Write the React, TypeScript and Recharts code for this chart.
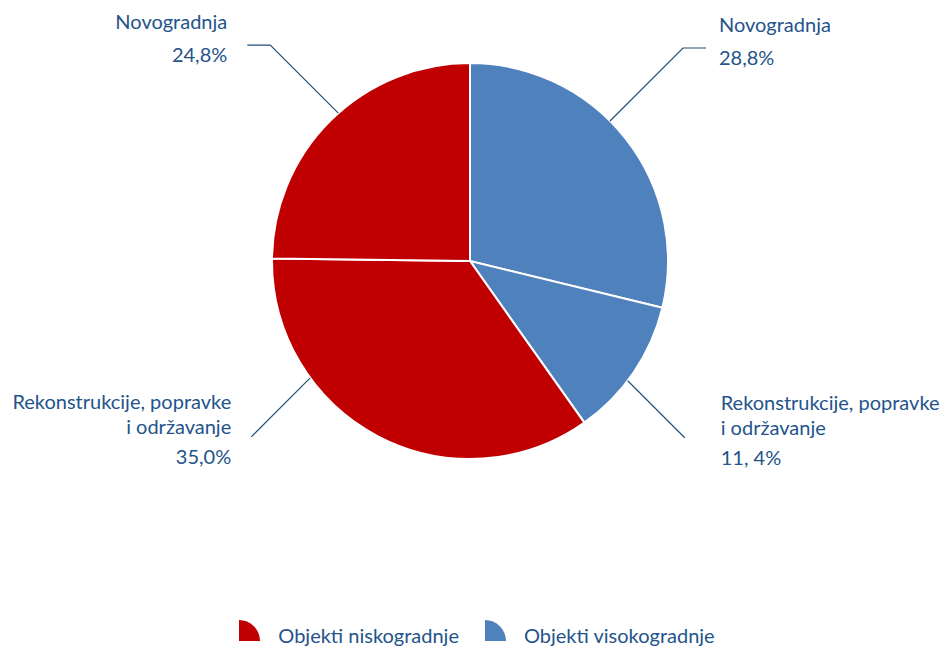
import { PieChart, Pie, Cell, Legend } from 'recharts'

// slices clockwise from 12 o'clock
const nameLines = [
  ['Novogradnja'],
  ['Rekonstrukcije, popravke', 'i održavanje'],
  ['Rekonstrukcije, popravke', 'i održavanje'],
  ['Novogradnja'],
]
const groups = ['Objekti visokogradnje', 'Objekti visokogradnje', 'Objekti niskogradnje', 'Objekti niskogradnje']
const shares = [28.8, 11.4, 35.0, 24.8]
const shareLabels = ['28,8%', '11, 4%', '35,0%', '24,8%']
const legendNames = ['Objekti niskogradnje', 'Objekti visokogradnje']

const groupColor: Record<string, string> = {
  'Objekti niskogradnje': '#C00000',
  'Objekti visokogradnje': '#4F81BD',
}
const TEXT = '#24548A'
const LINE = '#1F4E79'
const FONT = 'Lato, "Noto Sans", sans-serif'

const data = shares.map((v, i) => ({ name: nameLines[i].join(' '), group: groups[i], value: v }))

// leader line layout per slice (angle on rim in degrees, math convention)
const leaders = [
  { angle: 45, diag: 73, tail: 23, gap: 13, nameY: -16, pctY: 17 },
  { angle: -37.2, diag: 57, tail: 0, gap: 36, nameY: -3, pctY: 27 },
  { angle: 216.2, diag: 59, tail: 0, gap: 20, nameY: -3, pctY: 27 },
  { angle: 131.7, diag: 68, tail: 23, gap: 20, nameY: -16, pctY: 17 },
]

const RAD = Math.PI / 180

function renderLabel(props: any) {
  const { cx, cy, outerRadius, index } = props
  const l = leaders[index]
  const c = Math.cos(l.angle * RAD)
  const s = Math.sin(l.angle * RAD)
  const sx = cx + outerRadius * c
  const sy = cy - outerRadius * s
  const dx = c >= 0 ? 1 : -1
  const dy = s >= 0 ? -1 : 1
  const ex = sx + dx * l.diag
  const ey = sy + dy * l.diag
  const tx = ex + dx * l.tail
  const textX = tx + dx * l.gap
  const anchor = dx > 0 ? 'start' : 'end'
  const lines = nameLines[index]
  return (
    <g key={'lbl' + index}>
      <polyline points={`${sx},${sy} ${ex},${ey} ${tx},${ey}`} fill="none" stroke={LINE} strokeWidth={1.2} />
      {lines.map((t, k) => (
        <text key={k} x={textX} y={ey + l.nameY - (lines.length - 1 - k) * 25} textAnchor={anchor} fill={TEXT} fontSize={20} fontFamily={FONT}>
          {t}
        </text>
      ))}
      <text x={textX} y={ey + l.pctY} textAnchor={anchor} fill={TEXT} fontSize={20} fontFamily={FONT}>
        {shareLabels[index]}
      </text>
    </g>
  )
}

function LegendContent() {
  return (
    <div style={{ display: 'flex', justifyContent: 'center', alignItems: 'flex-end', fontFamily: FONT, fontSize: 20, color: TEXT }}>
      {legendNames.map((n, i) => (
        <div key={n} style={{ display: 'flex', alignItems: 'flex-end', marginLeft: i ? 26 : 0 }}>
          <svg width={21} height={21} style={{ marginRight: 18, flexShrink: 0 }}>
            <path d="M0 21 L0 0 A21 21 0 0 1 21 21 Z" fill={groupColor[n]} />
          </svg>
          <span style={{ lineHeight: '24px', marginBottom: -6 }}>{n}</span>
        </div>
      ))}
    </div>
  )
}

export default function App() {
  return (
    <div style={{ position: 'absolute', left: 0, top: 0, width: 942, height: 648, background: '#fff', overflow: 'hidden' }}>
      <PieChart width={942} height={648} margin={{ top: 0, right: 0, bottom: 0, left: 0 }}>
        <Pie
          data={data}
          dataKey="value"
          cx={470}
          cy={261}
          outerRadius={198}
          startAngle={90}
          endAngle={-270}
          stroke="#fff"
          strokeWidth={2}
          label={renderLabel}
          labelLine={false}
          isAnimationActive={false}
        >
          {data.map((d, i) => (
            <Cell key={i} fill={groupColor[d.group]} />
          ))}
        </Pie>
        <Legend content={<LegendContent />} wrapperStyle={{ left: 6, top: 620, width: 942 }} />
      </PieChart>
    </div>
  )
}
